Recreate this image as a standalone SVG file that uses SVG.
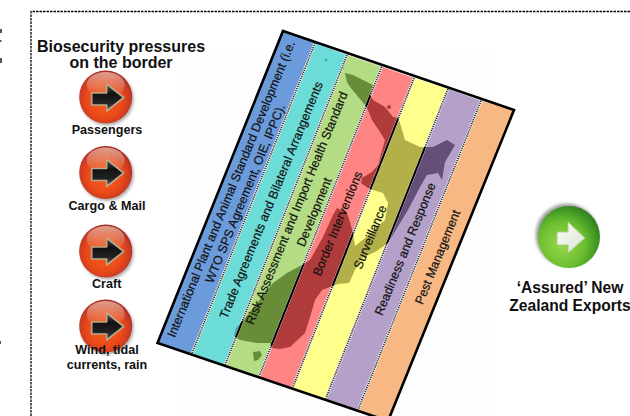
<svg xmlns="http://www.w3.org/2000/svg" width="630" height="416" viewBox="0 0 630 416">
<style>
text{font-family:"Liberation Sans",Arial,sans-serif;fill:#111}
.h{font-weight:bold;font-size:16px;text-anchor:middle}
.l{font-weight:bold;font-size:12.6px;text-anchor:middle}
.e{font-weight:bold;font-size:15.6px;text-anchor:middle}
.b{font-size:12.4px;text-anchor:middle;stroke:#111;stroke-width:.2px}
.frame{fill:none;stroke:#000;stroke-width:1.3;stroke-dasharray:2.5 1}
.div1{stroke:#fff;stroke-width:2.6;fill:none}
.div2{stroke:#333;stroke-width:1.8;stroke-dasharray:1.3 .9;fill:none}
.div3{stroke:#000;stroke-width:2;fill:none}
</style>
<defs>
<radialGradient id="red" cx=".48" cy=".55" r=".55">
<stop offset="0" stop-color="#f4621e"/><stop offset=".6" stop-color="#ec4a18"/><stop offset=".88" stop-color="#c83a24"/><stop offset="1" stop-color="#a02a22"/>
</radialGradient>
<linearGradient id="redtop" x1="0" y1="0" x2="0" y2="1">
<stop offset="0" stop-color="#e8c0b0" stop-opacity=".75"/><stop offset="1" stop-color="#e8c0b0" stop-opacity="0"/>
</linearGradient>
<linearGradient id="dark" x1="0" y1="0" x2="0" y2="1">
<stop offset="0" stop-color="#555"/><stop offset=".35" stop-color="#111"/><stop offset=".7" stop-color="#222"/><stop offset="1" stop-color="#555"/>
</linearGradient>
<radialGradient id="green" cx=".38" cy=".62" r=".68">
<stop offset="0" stop-color="#96d84a"/><stop offset=".55" stop-color="#6cbe30"/><stop offset=".85" stop-color="#3f9424"/><stop offset="1" stop-color="#2f7a20"/>
</radialGradient>
<linearGradient id="white" x1="0" y1="0" x2="1" y2="1">
<stop offset="0" stop-color="#fff"/><stop offset="1" stop-color="#d8e0d0"/>
</linearGradient>
<filter id="sh" x="-30%" y="-30%" width="160%" height="160%"><feGaussianBlur stdDeviation="1.6"/></filter>
<filter id="bl" x="-10%" y="-10%" width="120%" height="120%"><feGaussianBlur stdDeviation=".7"/></filter>
<g id="btn">
<circle cx="1.5" cy="2" r="26.5" fill="#777" opacity=".6" filter="url(#sh)"/>
<circle r="26.5" fill="url(#red)"/>
<ellipse cy="-12" rx="19" ry="13" fill="url(#redtop)"/>
<path d="M-14-4H1V-13L18 .5 1 14V8H-14Z" fill="url(#dark)" stroke="#b8a88c" stroke-width="1.6" stroke-linejoin="round"/>
</g>
<g id="nz">
<path d="M345 73L353 75 363 80 373 85 370 95 373 100 385 107 393 117 398 118 400 123 405 140 420 147 433 147 447 140 455 145 445 162 442 180 438 173 427 175 420 187 408 210 397 228 388 243 375 252 362 258 355 270 349 283 338 284 330 287 322 290 315 300 310 317 305 333 290 347 280 349 272 348 270 343 257 343 240 340 234 336 236 328 245 318 257 303 273 283 287 273 302 265 310 260 323 237 333 215 337 208 347 213 350 222 353 233 355 246 365 238 378 226 385 220 388 203 383 193 373 190 368 188 361 183 362 178 372 172 378 165 385 140 380 132 372 120 368 110 365 105 350 87 347 82Z"/>
<path d="M253 352L260 351 262 355 258 360 254 361Z"/>
<circle cx="389" cy="107" r="2"/>
<circle cx="326" cy="60" r="1.300"/>
<circle cx="342" cy="68" r="1.800"/>
</g>
<clipPath id="c2"><polygon points="315,43 347,55 225,365 191.700,354"/></clipPath>
<clipPath id="c3"><polygon points="347,55 381.700,66.700 259,376.700 225,365"/></clipPath>
<clipPath id="c4"><polygon points="381.700,66.700 414,78 292.700,387.700 259,376.700"/></clipPath>
<clipPath id="c5"><polygon points="414,78 448,89 325.700,398.700 292.700,387.700"/></clipPath>
<clipPath id="c6"><polygon points="448,89 481,100.700 358,410 325.700,398.700"/></clipPath>
<clipPath id="nzclip"><path d="M345 73L353 75 363 80 373 85 370 95 373 100 385 107 393 117 398 118 400 123 405 140 420 147 433 147 447 140 455 145 445 162 442 180 438 173 427 175 420 187 408 210 397 228 388 243 375 252 362 258 355 270 349 283 338 284 330 287 322 290 315 300 310 317 305 333 290 347 280 349 272 348 270 343 257 343 240 340 234 336 236 328 245 318 257 303 273 283 287 273 302 265 310 260 323 237 333 215 337 208 347 213 350 222 353 233 355 246 365 238 378 226 385 220 388 203 383 193 373 190 368 188 361 183 362 178 372 172 378 165 385 140 380 132 372 120 368 110 365 105 350 87 347 82Z"/></clipPath>
</defs>
<rect width="630" height="416" fill="#fff"/>
<rect x="182" y="55" width="313" height="361" fill="#fdfdfd"/>
<path d="M0 29h2v4H0zM0 40h1.500v2H0zM0 58h2v5H0zM0 341h1v3H0z" fill="#555"/>
<path class="frame" d="M31 416V11.500H630"/>

<g id="bands">
<polygon points="283,31 315,43 191.700,354 157.500,343" fill="#6c9bdc"/>
<polygon points="315,43 347,55 225,365 191.700,354" fill="#6cdcd8"/>
<polygon points="347,55 381.700,66.700 259,376.700 225,365" fill="#b4dc84"/>
<polygon points="381.700,66.700 414,78 292.700,387.700 259,376.700" fill="#ff8484"/>
<polygon points="414,78 448,89 325.700,398.700 292.700,387.700" fill="#ffff8c"/>
<polygon points="448,89 481,100.700 358,410 325.700,398.700" fill="#b4a0c8"/>
<polygon points="481,100.700 514,110 388,421 358,410" fill="#f8b884"/>
</g>

<g id="map">
<g clip-path="url(#c2)"><use href="#nz" fill="#3aa0a8" filter="url(#bl)"/></g>
<g clip-path="url(#c3)"><use href="#nz" fill="#688c38" filter="url(#bl)"/></g>
<g clip-path="url(#c4)"><use href="#nz" fill="#b03a3a" filter="url(#bl)"/></g>
<g clip-path="url(#c5)"><use href="#nz" fill="#b4b048" filter="url(#bl)"/></g>
<g clip-path="url(#c6)"><use href="#nz" fill="#645078" filter="url(#bl)"/></g>
</g>

<g id="connectors">
<path class="div1" d="M315 43L191.700 354M347 55L225 365M381.700 66.700L259 376.700M414 78L292.700 387.700M448 89L325.700 398.700M481 100.700L358 410"/>
<path class="div2" d="M315 43L191.700 354M347 55L225 365M381.700 66.700L259 376.700M414 78L292.700 387.700M448 89L325.700 398.700M481 100.700L358 410"/>
<path class="div3" clip-path="url(#nzclip)" d="M315 43L191.700 354M347 55L225 365M381.700 66.700L259 376.700M414 78L292.700 387.700M448 89L325.700 398.700M481 100.700L358 410"/>
</g>

<polygon id="border" points="283,31 514,110 388,421 157.500,343" fill="none" stroke="#000" stroke-width="2.600"/>

<g id="band-labels">
<text class="b" transform="translate(231,189) rotate(-67.800)" dy=".35em">International Plant and Animal Standard Development (i.e.</text>
<text class="b" transform="translate(245,193.500) rotate(-67.800)" dy=".35em">WTO SPS Agreement, OIE, IPPC).</text>
<text class="b" transform="translate(271,200) rotate(-67.800)" dy=".35em">Trade Agreements and Bilateral Arrangements</text>
<text class="b" transform="translate(296.500,208) rotate(-67.800)" dy=".35em">Risk Assessment and Import Health Standard</text>
<text class="b" transform="translate(314,212) rotate(-67.800)" dy=".35em">Development</text>
<text class="b" transform="translate(337.500,223.500) rotate(-67.800)" dy=".35em">Border Interventions</text>
<text class="b" transform="translate(370,237) rotate(-67.800)" dy=".35em">Surveillance</text>
<text class="b" transform="translate(405,249) rotate(-67.800)" dy=".35em">Readiness and Response</text>
<text class="b" transform="translate(437.500,257) rotate(-67.800)" dy=".35em">Pest Management</text>
</g>

<g id="title">
<text class="h" x="121" y="52">Biosecurity pressures</text>
<text class="h" x="121" y="68">on the border</text>
</g>
<g id="passengers"><use href="#btn" x="105.700" y="97"/><text class="l" x="107" y="134">Passengers</text></g>
<g id="cargo"><use href="#btn" x="105.700" y="172.500"/><text class="l" x="107" y="210">Cargo &amp; Mail</text></g>
<g id="craft"><use href="#btn" x="105.700" y="251"/><text class="l" x="106.700" y="288">Craft</text></g>
<g id="wind"><use href="#btn" x="105.700" y="326"/><text class="l" x="107" y="354">Wind, tidal</text><text class="l" x="107" y="369">currents, rain</text></g>

<g id="exports">
<circle cx="567" cy="235" r="31.500" fill="#555" opacity=".55" filter="url(#sh)"/>
<circle cx="569" cy="237" r="31" fill="url(#green)"/>
<path d="M557 232H568V222L585 238 568 253V245H557Z" fill="url(#white)" stroke="#a8d080" stroke-width="1"/>
<text class="e" x="570" y="293">‘Assured’ New</text>
<text class="e" x="570" y="311">Zealand Exports</text>
</g>
</svg>
